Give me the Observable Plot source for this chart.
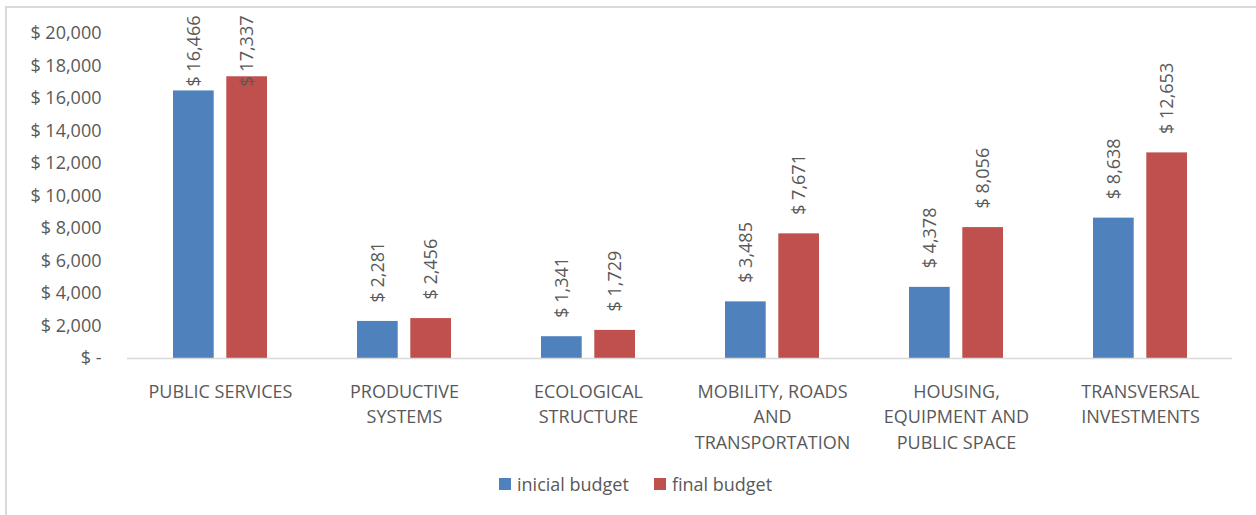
<!DOCTYPE html>
<html>
<head>
<meta charset="utf-8">
<script src="https://cdn.jsdelivr.net/npm/d3@7"></script>
<script src="https://cdn.jsdelivr.net/npm/@observablehq/plot@0.6"></script>
<style>
  html, body { margin: 0; padding: 0; background: #fff; width: 1256px; height: 515px; overflow: hidden; }
  #frame { position: absolute; left: 5px; top: 6px; width: 1300px; height: 600px; border-left: 2px solid #d9d9d9; border-top: 2px solid #d9d9d9; box-sizing: border-box; }
  #chart { position: absolute; left: 0; top: 0; }
  #legend { position: absolute; left: 499px; top: 472px; display: flex; align-items: center; font-family: "Open Sans", sans-serif; font-size: 18px; color: #595959; white-space: nowrap; }
  .item { display: flex; align-items: center; margin-right: 25px; }
  .sw { width: 12px; height: 12px; margin-right: 6px; }
</style>
</head>
<body>
<div id="frame"></div>
<div id="chart"></div>
<div id="legend"></div>
<script>
const categories = ["PUBLIC SERVICES", "PRODUCTIVE SYSTEMS", "ECOLOGICAL STRUCTURE", "MOBILITY, ROADS AND TRANSPORTATION", "HOUSING, EQUIPMENT AND PUBLIC SPACE", "TRANSVERSAL INVESTMENTS"];
const tickLabels = ["PUBLIC SERVICES", "PRODUCTIVE\nSYSTEMS", "ECOLOGICAL\nSTRUCTURE", "MOBILITY, ROADS\nAND\nTRANSPORTATION", "HOUSING,\nEQUIPMENT AND\nPUBLIC SPACE", "TRANSVERSAL\nINVESTMENTS"];
const initialBudget = [16466, 2281, 1341, 3485, 4378, 8638];
const finalBudget = [17337, 2456, 1729, 7671, 8056, 12653];
const seriesNames = ["inicial budget", "final budget"];
const seriesColors = ["#4F81BD", "#C0504D"];
const yTicks = [0, 2000, 4000, 6000, 8000, 10000, 12000, 14000, 16000, 18000, 20000];

const rowsInitial = categories.map((c, i) => ({category: c, series: seriesNames[0], value: initialBudget[i]}));
const rowsFinal = categories.map((c, i) => ({category: c, series: seriesNames[1], value: finalBudget[i]}));

const fmtMoney = v => v === 0 ? "$ -" : "$ " + d3.format(",")(v);
const labelMap = new Map(categories.map((c, i) => [c, tickLabels[i]]));

const font = "Open Sans";
const textColor = "#595959";
const inset = 53.3;   // space taken by the neighbouring bar in the group
const off = 26.65;    // half distance between bar centers
const clampAt = 15000; // labels that would overflow the top are pinned to it

const labelOpts = (dx) => ({
  x: "category", y: "value", text: d => fmtMoney(d.value),
  rotate: -90, textAnchor: "start", lineAnchor: "middle",
  dy: -19, dx, fill: textColor, fontSize: 18, fontFamily: font
});
const topLabelOpts = (dx) => ({
  x: "category", frameAnchor: "top", text: d => fmtMoney(d.value),
  rotate: -90, textAnchor: "end", lineAnchor: "middle",
  dy: -18, dx, fill: textColor, fontSize: 18, fontFamily: font
});

const chart = Plot.plot({
  width: 1256,
  height: 460,
  marginLeft: 127,
  marginRight: 24,
  marginTop: 33,
  marginBottom: 102,
  style: {fontFamily: font, fontSize: "18px", color: textColor, background: "transparent"},
  x: {domain: categories, paddingInner: 0.49, paddingOuter: 0.245, axis: null},
  y: {domain: [0, 20000], axis: null},
  marks: [
    Plot.barY(rowsInitial, {x: "category", y: "value", fill: seriesColors[0], insetRight: inset, insetLeft: 0}),
    Plot.barY(rowsFinal, {x: "category", y: "value", fill: seriesColors[1], insetLeft: inset, insetRight: 0}),
    Plot.ruleY([0], {stroke: "#d9d9d9", strokeWidth: 1.5}),
    Plot.axisY({ticks: yTicks, tickFormat: fmtMoney, tickSize: 0, tickPadding: 26, fontSize: 18, fontFamily: font, fill: textColor, label: null}),
    Plot.axisX({tickFormat: d => labelMap.get(d), tickSize: 0, tickPadding: 21, lineHeight: 1.42, fontSize: 18, fontFamily: font, fill: textColor, label: null}),
    Plot.text(rowsInitial.filter(d => d.value <= clampAt), labelOpts(-off)),
    Plot.text(rowsFinal.filter(d => d.value <= clampAt), labelOpts(off)),
    Plot.text(rowsInitial.filter(d => d.value > clampAt), topLabelOpts(-off)),
    Plot.text(rowsFinal.filter(d => d.value > clampAt), topLabelOpts(off))
  ]
});
document.getElementById("chart").appendChild(chart);

const legend = document.getElementById("legend");
seriesNames.forEach((name, i) => {
  const item = document.createElement("div");
  item.className = "item";
  const sw = document.createElement("div");
  sw.className = "sw";
  sw.style.background = seriesColors[i];
  const t = document.createElement("span");
  t.textContent = name;
  item.appendChild(sw);
  item.appendChild(t);
  legend.appendChild(item);
});
</script>
</body>
</html>
